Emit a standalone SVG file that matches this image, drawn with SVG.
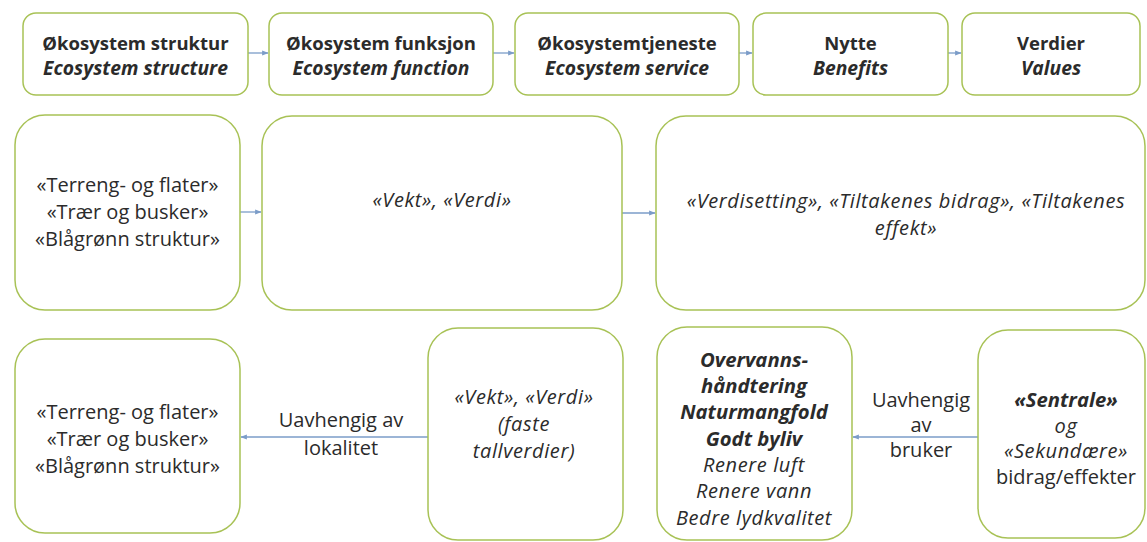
<svg xmlns="http://www.w3.org/2000/svg" width="1147" height="542" viewBox="0 0 1147 542">
<style>
.box{fill:#ffffff;stroke:#a8c256;stroke-width:1.5}
text{font-family:"Open Sans",Lato,"Liberation Sans",sans-serif;font-size:20px;fill:#2b2b2b;text-anchor:middle}
.b{font-weight:bold;font-size:18.5px}
.ti{font-weight:bold;font-style:italic;font-size:19.3px}
.i{font-style:italic;letter-spacing:0.6px}
.bi{font-weight:bold;font-style:italic;font-size:20.3px}
.con line{stroke:#7b9cc8;stroke-width:1.3;marker-end:url(#ah)}
</style>
<defs>
<marker id="ah" viewBox="0 0 10 10" refX="9" refY="5" markerWidth="5" markerHeight="5" orient="auto" markerUnits="strokeWidth">
<path d="M0,1 L10,5 L0,9 Z" fill="#7b9cc8"/>
</marker>
</defs>
<rect width="1147" height="542" fill="#ffffff"/>
<g id="connectors" class="con">
<line x1="248" y1="53" x2="268" y2="53"/>
<line x1="493" y1="53" x2="514" y2="53"/>
<line x1="739" y1="53" x2="752" y2="53"/>
<line x1="948" y1="53" x2="961" y2="53"/>
<line x1="240" y1="212" x2="261" y2="212"/>
<line x1="622" y1="213" x2="655" y2="213"/>
<line x1="428" y1="437" x2="241" y2="437"/>
<line x1="978" y1="437" x2="853" y2="437"/>
</g>
<g id="n1"><rect class="box" x="23" y="13" width="225" height="82" rx="13"/><text x="135.5" y="50" class="b">Økosystem struktur</text><text x="135.5" y="75" class="ti">Ecosystem structure</text></g>
<g id="n2"><rect class="box" x="269" y="13" width="224" height="82" rx="13"/><text x="381" y="50" class="b">Økosystem funksjon</text><text x="381" y="75" class="ti">Ecosystem function</text></g>
<g id="n3"><rect class="box" x="515" y="13" width="224" height="82" rx="13"/><text x="627" y="50" class="b">Økosystemtjeneste</text><text x="627" y="75" class="ti">Ecosystem service</text></g>
<g id="n4"><rect class="box" x="753" y="13" width="195" height="82" rx="13"/><text x="850.5" y="50" class="b">Nytte</text><text x="850.5" y="75" class="ti">Benefits</text></g>
<g id="n5"><rect class="box" x="962" y="13" width="178" height="82" rx="13"/><text x="1051" y="50" class="b">Verdier</text><text x="1051" y="75" class="ti">Values</text></g>
<g id="r2a"><rect class="box" x="15" y="115" width="225" height="195" rx="30"/><text x="127.5" y="192">«Terreng- og flater»</text><text x="127.5" y="219">«Trær og busker»</text><text x="127.5" y="246">«Blågrønn struktur»</text></g>
<g id="r2b"><rect class="box" x="262" y="116" width="360" height="194" rx="30"/><text x="442" y="207" class="i">«Vekt», «Verdi»</text></g>
<g id="r2c"><rect class="box" x="656" y="116" width="489" height="194" rx="30"/><text x="906" y="208" class="i">«Verdisetting», «Tiltakenes bidrag», «Tiltakenes</text><text x="906" y="235" class="i">effekt»</text></g>
<g id="r3a"><rect class="box" x="15" y="339" width="225" height="194" rx="30"/><text x="127.5" y="419">«Terreng- og flater»</text><text x="127.5" y="446">«Trær og busker»</text><text x="127.5" y="473">«Blågrønn struktur»</text></g>
<g id="lbl1"><text x="341" y="427">Uavhengig av</text><text x="341" y="455">lokalitet</text></g>
<g id="r3b"><rect class="box" x="428" y="328" width="195" height="212" rx="30"/><text x="524" y="404" class="i">«Vekt», «Verdi»</text><text x="524" y="431" class="i">(faste</text><text x="524" y="458" class="i">tallverdier)</text></g>
<g id="r3c"><rect class="box" x="657" y="327" width="195" height="213" rx="30"/><text x="754" y="367" class="bi">Overvanns-</text><text x="754" y="393" class="bi">håndtering</text><text x="754" y="419" class="bi">Naturmangfold</text><text x="754" y="446" class="bi">Godt byliv</text><text x="754" y="472" class="i">Renere luft</text><text x="754" y="498" class="i">Renere vann</text><text x="754" y="525" class="i">Bedre lydkvalitet</text></g>
<g id="lbl2"><text x="921" y="407">Uavhengig</text><text x="921" y="432">av</text><text x="921" y="457">bruker</text></g>
<g id="r3d"><rect class="box" x="978" y="330" width="167" height="208" rx="30"/><text x="1066" y="407" class="bi">«Sentrale»</text><text x="1066" y="433" class="i">og</text><text x="1066" y="458" class="i">«Sekundære»</text><text x="1066" y="484">bidrag/effekter</text></g>
</svg>
